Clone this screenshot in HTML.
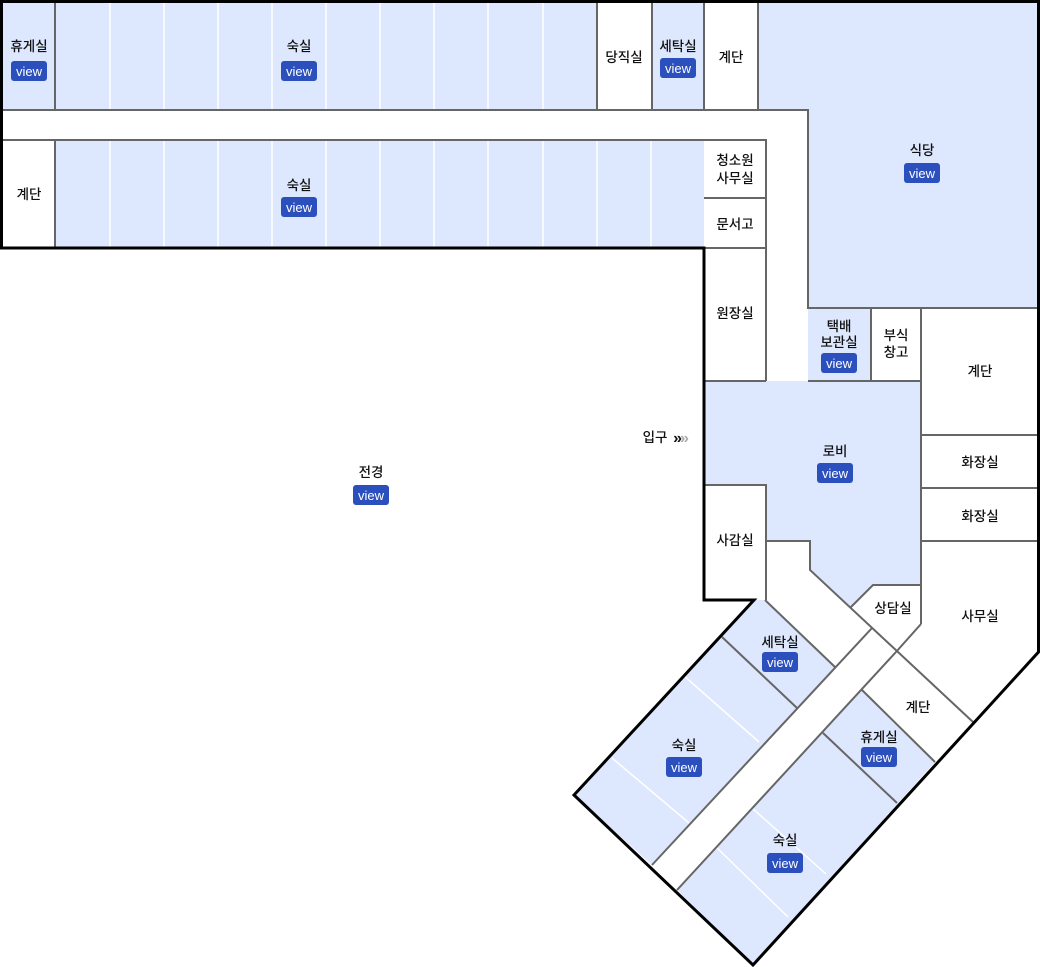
<!DOCTYPE html>
<html><head><meta charset="utf-8"><style>
html,body{margin:0;padding:0;background:#fff;}
svg{display:block;}
text{font-family:"Liberation Sans","Noto Sans CJK KR",sans-serif;font-size:13.5px;fill:#111;text-anchor:middle;font-weight:500;}
.b rect{fill:#2b50bd;}
.b text{fill:#fff;font-size:13px;}
.g{stroke:#666;stroke-width:2;fill:none;}
.w{stroke:#fff;stroke-width:1.5;fill:none;}
.f{fill:#dde7fd;stroke:none;}
</style></head><body>
<svg width="1040" height="967" viewBox="0 0 1040 967" xmlns="http://www.w3.org/2000/svg">
<defs>
<g id="v" class="b"><rect x="-18" y="-10" width="36" height="20" rx="3"/><text x="0" y="5">view</text></g>
</defs>
<rect class="f" x="0" y="0" width="597" height="110"/>
<rect class="f" x="652" y="0" width="52" height="110"/>
<polygon class="f" points="758,0 1040,0 1040,308 808,308 808,110 758,110"/>
<rect class="f" x="55" y="140" width="649" height="108"/>
<rect class="f" x="808" y="308" width="63" height="73"/>
<polygon class="f" points="704,381 921,381 921,585 873,585 851,607 810,570 810,541 766,541 766,485 704,485"/>
<polygon class="f" points="755,600 765,600 835,667 652,865 574,795"/>
<polygon class="f" points="862,690 935,762 753,965 677,890"/>
<g class="w">
<path d="M110,0V110M164,0V110M218,0V110M272,0V110M326,0V110M380,0V110M434,0V110M488,0V110M543,0V110"/>
<path d="M110,140V248M164,140V248M218,140V248M272,140V248M326,140V248M380,140V248M434,140V248M488,140V248M543,140V248M597,140V248M651,140V248"/>
<path d="M683,675L759,742M612,758L689,823M752,808L826,874M714,845L788,917"/>
</g>
<g class="g">
<path d="M55,0V110M597,0V110M652,0V110M704,0V110M758,0V110"/>
<path d="M0,110H808V308H1040M0,140H766V381M55,140V248M704,198H766M704,248H766M704,381H766M808,381H921M871,308V381M921,308V624"/>
<path d="M921,435H1040M921,488H1040M921,541H1040"/>
<path d="M704,485H766V600M766,541H810V570L973,722M851,607L873,585H921"/>
<path d="M765,600L835,667M722,637L797,708M872,628L652,865M921,624L896,652L677,890M862,690L935,762M823,733L897,803"/>
</g>
<path d="M1.5,1.5H1038.5V652L753,965L574,795L754,600H704V248H1.5Z" fill="none" stroke="#000" stroke-width="3"/>
<text x="29" y="51">휴게실</text><use href="#v" x="29" y="71"/>
<text x="299" y="51">숙실</text><use href="#v" x="299" y="71"/>
<text x="624" y="62">당직실</text>
<text x="678" y="51">세탁실</text><use href="#v" x="678" y="68"/>
<text x="731" y="62">계단</text>
<text x="922" y="155">식당</text><use href="#v" x="922" y="173"/>
<text x="29" y="199">계단</text>
<text x="299" y="190">숙실</text><use href="#v" x="299" y="207"/>
<text x="735" y="165">청소원</text><text x="735" y="183">사무실</text>
<text x="735" y="229">문서고</text>
<text x="735" y="318">원장실</text>
<text x="839" y="331">택배</text><text x="839" y="347">보관실</text><use href="#v" x="839" y="363"/>
<text x="896" y="340">부식</text><text x="896" y="357">창고</text>
<text x="980" y="376">계단</text>
<text x="980" y="467">화장실</text>
<text x="980" y="521">화장실</text>
<text x="980" y="621">사무실</text>
<text x="655" y="442">입구</text><text x="681" y="443" style="font-size:16px;font-weight:bold">»<tspan fill="#aaa" dx="-2">»</tspan></text>
<text x="835" y="456">로비</text><use href="#v" x="835" y="473"/>
<text x="371" y="477">전경</text><use href="#v" x="371" y="495"/>
<text x="735" y="545">사감실</text>
<text x="893" y="613">상담실</text>
<text x="780" y="647">세탁실</text><use href="#v" x="780" y="662"/>
<text x="918" y="712">계단</text>
<text x="879" y="742">휴게실</text><use href="#v" x="879" y="757"/>
<text x="684" y="750">숙실</text><use href="#v" x="684" y="767"/>
<text x="785" y="845">숙실</text><use href="#v" x="785" y="863"/>
</svg>
</body></html>
